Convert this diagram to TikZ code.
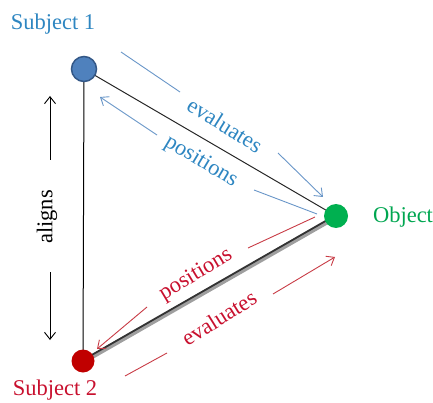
\documentclass[tikz,border=0pt]{standalone}
\usepackage{fontspec}
\setmainfont{Liberation Serif}
\usetikzlibrary{arrows.meta}
\definecolor{bluetxt}{RGB}{46,134,193}
\definecolor{blueln}{RGB}{105,150,200}
\definecolor{redtxt}{RGB}{200,16,46}
\definecolor{redln}{RGB}{200,60,70}
\definecolor{greentxt}{RGB}{0,166,80}
\definecolor{s1fill}{RGB}{79,129,189}
\definecolor{s1draw}{RGB}{52,88,135}
\definecolor{objfill}{RGB}{0,176,80}
\definecolor{s2fill}{RGB}{192,0,0}
\tikzset{
  lbl/.style={font=\fontsize{22.5}{25}\selectfont, inner sep=0pt},
  dot/.style={circle, inner sep=0pt},
  tip/.style={-{Straight Barb[length=7pt,width=11pt]}},
  bluearr/.style={draw=blueln, line width=0.9pt},
  redarr/.style={draw=redln, line width=0.9pt},
}
\begin{document}
\begin{tikzpicture}[x=1pt,y=-1pt]
\useasboundingbox (0,0) rectangle (433,403);
% nodes
\coordinate (s1) at (84,69);
\coordinate (obj) at (336,216);
\coordinate (s2) at (83,361);
% edges
\draw[black, line width=1pt] (s1) -- (s2);
\draw[black!85, line width=1pt] (s1) -- (obj);
\draw[gray!75, line width=4.5pt] ([yshift=-1pt]s2) -- ([yshift=-1pt]obj);
\draw[black!80, line width=1.8pt] ([yshift=1pt]s2) -- ([yshift=1pt]obj);
\node[dot, fill=s1fill, draw=s1draw, line width=1.5pt, minimum size=25pt] (s1n) at (s1) {};
\node[dot, fill=objfill, minimum size=24pt] (objn) at (obj) {};
\node[dot, fill=s2fill, minimum size=23pt] (s2n) at (s2) {};
% labels
\node[lbl, text=bluetxt] (s1l) at (53,24) {Subject 1};
\node[lbl, text=greentxt] (objl) at (403,217) {Object};
\node[lbl, text=redtxt] (s2l) at (55,390) {Subject 2};
% aligns
\node[lbl, rotate=90] (al) at (47,217) {aligns};
\coordinate (au1) at (50,160); \coordinate (au2) at (50,96);
\coordinate (ad1) at (50,272); \coordinate (ad2) at (50,340);
\draw[tip, line width=0.9pt] (au1) -- (au2);
\draw[tip, line width=0.9pt] (ad1) -- (ad2);
% blue evaluates
\node[lbl, text=bluetxt, rotate=-32] (bev) at (225,125) {evaluates};
\coordinate (bev1) at (121,52); \coordinate (bev2) at (180,92);
\coordinate (bev3) at (278,153); \coordinate (bev4) at (323,197);
\draw[bluearr] (bev1) -- (bev2);
\draw[bluearr, tip] (bev3) -- (bev4);
% blue positions
\node[lbl, text=bluetxt, rotate=-31] (bpo) at (201,162) {positions};
\coordinate (bpo1) at (317,214); \coordinate (bpo2) at (254,190);
\coordinate (bpo3) at (157,135); \coordinate (bpo4) at (100,97);
\draw[bluearr] (bpo1) -- (bpo2);
\draw[bluearr, tip] (bpo3) -- (bpo4);
% red positions
\node[lbl, text=redtxt, rotate=31] (rpo) at (196,275) {positions};
\coordinate (rpo1) at (315,217); \coordinate (rpo2) at (248,248);
\coordinate (rpo3) at (147,307); \coordinate (rpo4) at (97,349);
\draw[redarr] (rpo1) -- (rpo2);
\draw[redarr, tip] (rpo3) -- (rpo4);
% red evaluates
\node[lbl, text=redtxt, rotate=32] (rev) at (219,318) {evaluates};
\coordinate (rev1) at (125,376); \coordinate (rev2) at (167,353);
\coordinate (rev3) at (273,294); \coordinate (rev4) at (335,257);
\draw[redarr] (rev1) -- (rev2);
\draw[redarr, tip] (rev3) -- (rev4);
\end{tikzpicture}
\end{document}
